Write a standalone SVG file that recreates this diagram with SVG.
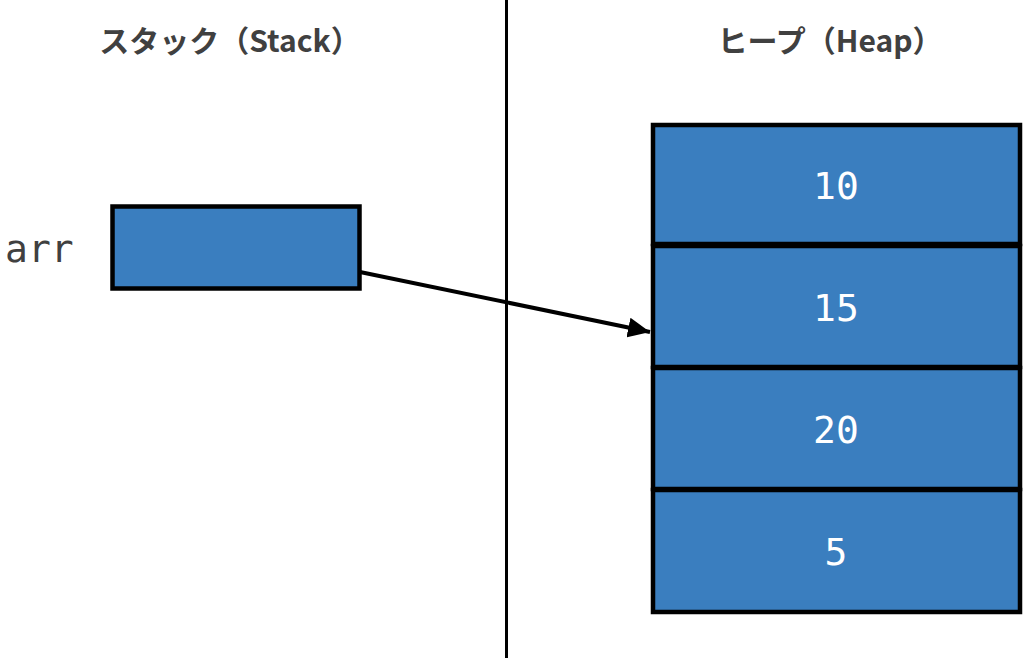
<svg xmlns="http://www.w3.org/2000/svg" width="1024" height="658" viewBox="0 0 1024 658">
<style>
.title{font-family:"Noto Sans CJK JP","Noto Sans",sans-serif;font-weight:bold;font-size:30px;fill:#404040;text-anchor:middle}
.cell{fill:#3a7ebf;stroke:#000;stroke-width:4.5}
.num{font-family:"DejaVu Sans Mono",monospace;font-size:38px;fill:#fff;text-anchor:middle}
.lbl{font-family:"DejaVu Sans Mono",monospace;font-size:38px;fill:#404040}
</style>
<defs>
<marker id="ah" markerUnits="userSpaceOnUse" markerWidth="22" markerHeight="20" refX="22" refY="10" orient="auto">
<path d="M0,0 L22,10 L0,20 Z" fill="#000"/>
</marker>
</defs>
<rect width="1024" height="658" fill="#fff"/>
<line x1="506.5" y1="0" x2="506.5" y2="658" stroke="#000" stroke-width="3"/>
<text class="title" x="230" y="52">スタック（Stack）</text>
<text class="title" x="830" y="52">ヒープ（Heap）</text>
<g id="arr">
<text class="lbl" x="5" y="262">arr</text>
<rect class="cell" x="112.5" y="206.5" width="247" height="82"/>
</g>
<g id="heap-10"><rect class="cell" x="653" y="125" width="367" height="119"/><text class="num" x="836" y="199">10</text></g>
<g id="heap-15"><rect class="cell" x="653" y="246" width="367" height="121"/><text class="num" x="836" y="321">15</text></g>
<g id="heap-20"><rect class="cell" x="653" y="368" width="367" height="121"/><text class="num" x="836" y="443">20</text></g>
<g id="heap-5"><rect class="cell" x="653" y="490" width="367" height="122"/><text class="num" x="836" y="565">5</text></g>
<g id="connectors">
<line x1="360" y1="272" x2="650" y2="332" stroke="#000" stroke-width="4" marker-end="url(#ah)"/>
</g>
</svg>
